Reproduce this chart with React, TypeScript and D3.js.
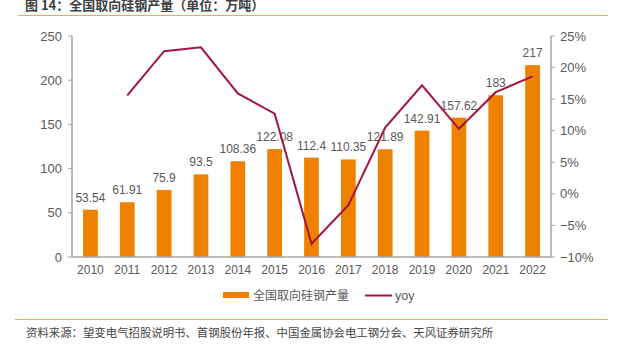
import React from "react";
import * as d3 from "d3";

const years = ["2010","2011","2012","2013","2014","2015","2016","2017","2018","2019","2020","2021","2022"];
const output = [53.54, 61.91, 75.9, 93.5, 108.36, 122.08, 112.4, 110.35, 121.89, 142.91, 157.62, 183, 217];
const outputLabels = ["53.54","61.91","75.9","93.5","108.36","122.08","112.4","110.35","121.89","142.91","157.62","183","217"];
const yoy = [null, 15.6, 22.6, 23.2, 15.9, 12.7, -7.9, -1.8, 10.5, 17.2, 10.3, 16.1, 18.6];
const leftTicks = [0, 50, 100, 150, 200, 250];
const rightTicks = [-10, -5, 0, 5, 10, 15, 20, 25];

const W = 622, H = 350;
const left = 72, right = 551, top = 36, bottom = 257;
const BAR = "#EE8200";
const LINE = "#A3153D";
const AXIS = "#A6A6A6";
const TXT = "#595959";
const FONT = "Arial, 'Liberation Sans', 'Noto Sans CJK SC', sans-serif";
const CJK = "'Noto Sans CJK SC', sans-serif";

export default function App() {
  const x = d3.scaleBand<string>().domain(years).range([left, right]).paddingInner(0.6).paddingOuter(0.3);
  const xc = d3.scaleBand<string>().domain(years).range([left, right]);
  const y = d3.scaleLinear().domain([0, 250]).range([bottom, top]);
  const y2 = d3.scaleLinear().domain([-10, 25]).range([bottom, top]);
  const line = d3.line<[string, number | null]>()
    .defined(d => d[1] !== null)
    .x(d => (xc(d[0]) as number) + xc.bandwidth() / 2)
    .y(d => y2(d[1] as number));
  const pts: [string, number | null][] = years.map((yr, i) => [yr, yoy[i]]);
  return (
    <svg width={W} height={H} style={{ position: "absolute", left: 0, top: 0, background: "#fff" }} fontFamily={FONT}>
      <text x={25} y={10} fontSize={13} fontWeight="bold" fill="#404040" fontFamily={CJK}>图 14：全国取向硅钢产量（单位：万吨）</text>
      <line x1={18} x2={608} y1={15.5} y2={15.5} stroke="#F4A460" strokeWidth={1} />
      {years.map((yr, i) => (
        <g key={yr}>
          <rect x={x(yr)} y={y(output[i])} width={x.bandwidth()} height={bottom - y(output[i])} fill={BAR} />
          <text x={(x(yr) as number) + x.bandwidth() / 2} y={y(output[i]) - 8} textAnchor="middle" fontSize={12} fill={TXT}>{outputLabels[i]}</text>
        </g>
      ))}
      <path d={line(pts) || ""} fill="none" stroke={LINE} strokeWidth={2} />
      <line x1={left} x2={left} y1={top} y2={bottom} stroke={AXIS} strokeWidth={1.5} />
      <line x1={right} x2={right} y1={top} y2={bottom} stroke={AXIS} strokeWidth={1.5} />
      <line x1={left} x2={right} y1={bottom} y2={bottom} stroke={AXIS} strokeWidth={1.5} />
      {leftTicks.map(t => (
        <g key={t}>
          <line x1={left - 4} x2={left} y1={y(t)} y2={y(t)} stroke={AXIS} />
          <text x={left - 10} y={y(t) + 4.5} textAnchor="end" fontSize={13} fill={TXT}>{t}</text>
        </g>
      ))}
      {rightTicks.map(t => (
        <g key={t}>
          <line x1={right} x2={right + 4} y1={y2(t)} y2={y2(t)} stroke={AXIS} />
          <text x={right + 9} y={y2(t) + 4.5} textAnchor="start" fontSize={13} fill={TXT}>{t < 0 ? "\u2212" + Math.abs(t) : t}%</text>
        </g>
      ))}
      {years.map(yr => (
        <text key={yr} x={(xc(yr) as number) + xc.bandwidth() / 2} y={bottom + 17} textAnchor="middle" fontSize={12} fill={TXT}>{yr}</text>
      ))}
      <rect x={223} y={292} width={26} height={6} fill={BAR} />
      <text x={253} y={300} fontSize={12} fill={TXT} fontFamily={CJK}>全国取向硅钢产量</text>
      <line x1={365} x2={392} y1={295.5} y2={295.5} stroke={LINE} strokeWidth={2} />
      <text x={395} y={300} fontSize={12.5} fill={TXT}>yoy</text>
      <line x1={15} x2={608} y1={319.5} y2={319.5} stroke="#F4A460" strokeWidth={1} />
      <text x={26} y={337} fontSize={11.4} fill="#444" fontFamily={CJK}>资料来源：望变电气招股说明书、首钢股份年报、中国金属协会电工钢分会、天风证券研究所</text>
    </svg>
  );
}
